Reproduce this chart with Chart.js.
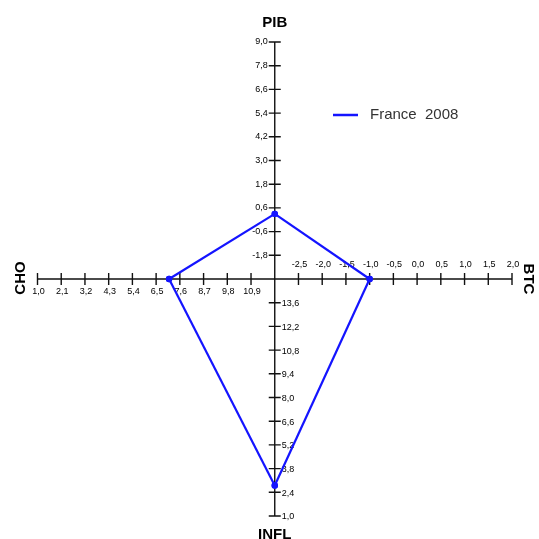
<!DOCTYPE html>
<html>
<head>
<meta charset="utf-8">
<script src="https://cdn.jsdelivr.net/npm/chart.js@4.4.0/dist/chart.umd.min.js"></script>
<style>
  html, body { margin: 0; padding: 0; background: #ffffff; }
  #wrap { width: 539px; height: 539px; }
  canvas { display: block; }
</style>
</head>
<body>
<div id="wrap"><canvas id="c" width="539" height="539"></canvas></div>
<script>
// ---- data ----
const axisNames = ['PIB', 'BTC', 'INFL', 'CHO'];
const seriesLabel = 'France  2008';
const pibValue = 0.3;
const btcValue = -1.0;
const inflValue = 2.8;
const choValue = 7.1;
// value of each axis at the centre of the square
const pibOrigin = -3.0;
const btcOrigin = -3.0;
const inflOrigin = 15.0;
const choOrigin = 12.0;
// tick labels
const pibTicks = [9.0, 7.8, 6.6, 5.4, 4.2, 3.0, 1.8, 0.6, -0.6, -1.8];
const btcTicks = [-2.5, -2.0, -1.5, -1.0, -0.5, 0.0, 0.5, 1.0, 1.5, 2.0];
const inflTicks = [13.6, 12.2, 10.8, 9.4, 8.0, 6.6, 5.2, 3.8, 2.4, 1.0];
const choTicks = [1.0, 2.1, 3.2, 4.3, 5.4, 6.5, 7.6, 8.7, 9.8, 10.9];

const fmt = v => v.toFixed(1).replace('.', ',');
const BLUE = '#1414ff';

function seg(xId, yId, pts) {
  return {
    label: seriesLabel, xAxisID: xId, yAxisID: yId, data: pts,
    showLine: true, borderColor: BLUE, borderWidth: 2.2,
    pointRadius: 3.2, pointBackgroundColor: BLUE, pointBorderColor: BLUE,
    pointBorderWidth: 0, clip: false
  };
}

const axesPlugin = {
  id: 'magicAxes',
  beforeDatasetsDraw(chart) {
    const ctx = chart.ctx;
    const s = chart.scales;
    const cx = s.xBTC.getPixelForValue(btcOrigin);
    const cy = s.yPIB.getPixelForValue(pibOrigin);
    const T = 6;
    ctx.save();
    ctx.strokeStyle = '#111';
    ctx.lineWidth = 1.4;
    ctx.beginPath();
    const xl = s.xCHO.getPixelForValue(choTicks[0]);
    const xr = s.xBTC.getPixelForValue(btcTicks[btcTicks.length - 1]);
    const yt = s.yPIB.getPixelForValue(pibTicks[0]);
    const yb = s.yINFL.getPixelForValue(inflTicks[inflTicks.length - 1]);
    ctx.moveTo(xl, cy); ctx.lineTo(xr, cy);
    ctx.moveTo(cx, yt); ctx.lineTo(cx, yb);

    ctx.fillStyle = '#000';
    ctx.font = '9px "Liberation Sans", Arial, sans-serif';
    // PIB (up), labels left
    ctx.textAlign = 'right'; ctx.textBaseline = 'middle';
    pibTicks.forEach(v => {
      const y = s.yPIB.getPixelForValue(v);
      ctx.moveTo(cx - T, y); ctx.lineTo(cx + T, y);
      ctx.fillText(fmt(v), cx - 7, y);
    });
    // INFL (down), labels right
    ctx.textAlign = 'left';
    inflTicks.forEach(v => {
      const y = s.yINFL.getPixelForValue(v);
      ctx.moveTo(cx - T, y); ctx.lineTo(cx + T, y);
      ctx.fillText(fmt(v), cx + 7, y + 1);
    });
    // CHO (left), labels below
    ctx.textAlign = 'center';
    choTicks.forEach(v => {
      const x = s.xCHO.getPixelForValue(v);
      ctx.moveTo(x, cy - T); ctx.lineTo(x, cy + T);
      ctx.fillText(fmt(v), x + 1, cy + 13);
    });
    // BTC (right), labels above
    btcTicks.forEach(v => {
      const x = s.xBTC.getPixelForValue(v);
      ctx.moveTo(x, cy - T); ctx.lineTo(x, cy + T);
      ctx.fillText(fmt(v), x + 1, cy - 14);
    });
    ctx.stroke();

    // axis titles
    ctx.fillStyle = '#000';
    ctx.font = 'bold 15px "Liberation Sans", Arial, sans-serif';
    ctx.textAlign = 'center'; ctx.textBaseline = 'middle';
    ctx.fillText(axisNames[0], cx, 23);
    ctx.fillText(axisNames[2], cx, 535);
    ctx.save();
    ctx.translate(20.5, cy - 1);
    ctx.rotate(-Math.PI / 2);
    ctx.fillText(axisNames[3], 0, 0);
    ctx.restore();
    ctx.save();
    ctx.translate(528, cy);
    ctx.rotate(Math.PI / 2);
    ctx.fillText(axisNames[1], 0, 0);
    ctx.restore();
    ctx.restore();
  },
  afterDraw(chart) {
    const ctx = chart.ctx;
    ctx.save();
    ctx.strokeStyle = BLUE; ctx.lineWidth = 2.5;
    ctx.beginPath(); ctx.moveTo(333, 115); ctx.lineTo(358, 115); ctx.stroke();
    ctx.fillStyle = '#333';
    ctx.font = '15px "Liberation Sans", Arial, sans-serif';
    ctx.textAlign = 'left'; ctx.textBaseline = 'middle';
    ctx.fillText(chart.data.datasets[0].label, 370, 115);
    ctx.restore();
  }
};

new Chart(document.getElementById('c'), {
  type: 'scatter',
  data: {
    datasets: [
      seg('xBTC', 'yPIB', [{x: btcOrigin, y: pibValue}, {x: btcValue, y: pibOrigin}]),
      seg('xBTC', 'yINFL', [{x: btcValue, y: inflOrigin}, {x: btcOrigin, y: inflValue}]),
      seg('xCHO', 'yINFL', [{x: choOrigin, y: inflValue}, {x: choValue, y: inflOrigin}]),
      seg('xCHO', 'yPIB', [{x: choValue, y: pibOrigin}, {x: choOrigin, y: pibValue}])
    ]
  },
  options: {
    responsive: false,
    animation: false,
    devicePixelRatio: 1,
    layout: { padding: { left: 37.5, right: 27, top: 42, bottom: 23 } },
    plugins: { legend: { display: false }, tooltip: { enabled: false }, title: { display: false } },
    scales: {
      xBTC: { type: 'linear', axis: 'x', display: false, min: btcOrigin - 5, max: 2.0 },
      xCHO: { type: 'linear', axis: 'x', display: false, min: 1.0, max: choOrigin + 11 },
      yPIB: { type: 'linear', axis: 'y', display: false, min: pibOrigin - 12, max: 9.0 },
      yINFL: { type: 'linear', axis: 'y', display: false, min: 1.0, max: inflOrigin + 14 }
    }
  },
  plugins: [axesPlugin]
});
</script>
</body>
</html>
